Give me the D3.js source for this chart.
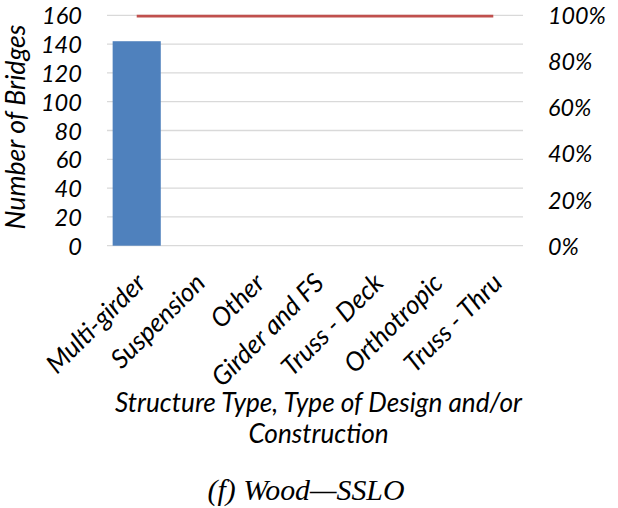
<!DOCTYPE html>
<html><head><meta charset="utf-8">
<script src="https://cdn.jsdelivr.net/npm/d3@7"></script>
<style>body{margin:0;background:#fff}svg text{font-family:Lato,"Open Sans",sans-serif;font-style:italic;fill:#000}</style>
</head><body><svg id="c" width="618" height="508"></svg>
<script>
const categories = ["Multi-girder","Suspension","Other","Girder and FS","Truss - Deck","Orthotropic","Truss - Thru"];
const counts = [142,0,0,0,0,0,0];
const cumulativePct = [100,100,100,100,100,100,100];
const leftTicks = [0,20,40,60,80,100,120,140,160];
const rightTicks = [0,20,40,60,80,100];

const svg = d3.select("#c");
const m = {l:107, r:523, t:15.3, b:245.7};
const x = d3.scaleBand().domain(categories).range([m.l,m.r]).paddingInner(0.19).paddingOuter(0.095);
const y = d3.scaleLinear().domain([0,160]).range([m.b,m.t]);
const y2 = d3.scaleLinear().domain([0,100]).range([m.b,m.t]);
const SANS = "Lato,'Open Sans',sans-serif";

// scale a text's font size so its advance width equals a target width
function fit(sel, target){
  const n = sel.node();
  const w = n.getComputedTextLength();
  const fs = parseFloat(getComputedStyle(n).fontSize);
  return fs*target/w;
}

svg.append("g").selectAll("line").data(leftTicks).join("line")
  .attr("x1",m.l).attr("x2",m.r).attr("y1",d=>y(d)).attr("y2",d=>y(d))
  .attr("stroke","#d9d9d9").attr("stroke-width",1.3);

svg.append("g").selectAll("rect").data(categories).join("rect")
  .attr("x",d=>x(d)).attr("width",x.bandwidth())
  .attr("y",(d,i)=>y(counts[i])).attr("height",(d,i)=>y(0)-y(counts[i]))
  .attr("fill","#4F81BD");

const line = d3.line().x((d,i)=>x(categories[i])+x.bandwidth()/2).y(d=>y2(d)+0.8);
svg.append("path").datum(cumulativePct).attr("d",line).attr("fill","none")
  .attr("stroke","#C0504D").attr("stroke-width",2.6);

const ax = d3.axisLeft(y).tickValues(leftTicks).tickSize(0).tickPadding(0);
const gL = svg.append("g").attr("transform",`translate(82,0)`).call(ax);
gL.select(".domain").remove();
gL.selectAll("text").style("font-family",SANS).style("font-style","italic").style("font-size","22px").attr("dy","0.36em");
const fsL = fit(gL.selectAll("text").filter(d=>d===160), 40);
gL.selectAll("text").style("font-size",fsL+"px");

const ar = d3.axisRight(y2).tickValues(rightTicks).tickSize(0).tickPadding(0).tickFormat(d=>d+"%");
const gR = svg.append("g").attr("transform",`translate(548,0)`).call(ar);
gR.select(".domain").remove();
gR.selectAll("text").style("font-family",SANS).style("font-style","italic").style("font-size","22px").attr("dy","0.36em");
const fsR = fit(gR.selectAll("text").filter(d=>d===100), 58);
gR.selectAll("text").style("font-size",fsR+"px");

const gx = svg.append("g");
const xl = gx.selectAll("text").data(categories).join("text")
  .attr("text-anchor","end").style("font-size","22px").text(d=>d);
const fsX = fit(xl.filter(d=>d==="Multi-girder"), 128);
xl.style("font-size",fsX+"px")
  .attr("transform",d=>`translate(${x(d)+x.bandwidth()/2+1+0.37*fsX},${275+0.37*fsX}) rotate(-45)`);

const yt = svg.append("text").attr("transform","translate(25,127) rotate(-90)").attr("text-anchor","middle")
  .style("font-size","22px").text("Number of Bridges");
yt.style("font-size",fit(yt,205)+"px");

const t1 = svg.append("text").attr("x",318.5).attr("y",412).attr("text-anchor","middle").style("font-size","24px")
  .text("Structure Type, Type of Design and/or");
const fsT = fit(t1,407);
t1.style("font-size",fsT+"px");
svg.append("text").attr("x",318.5).attr("y",443).attr("text-anchor","middle").style("font-size",fsT+"px")
  .text("Construction");
const cap = svg.append("text").attr("x",306).attr("y",500).attr("text-anchor","middle")
  .style("font-family","'Liberation Serif','Times New Roman',serif").style("font-size","28px")
  .text("(f) Wood\u2014SSLO");
cap.style("font-size",fit(cap,197)+"px");
</script></body></html>
